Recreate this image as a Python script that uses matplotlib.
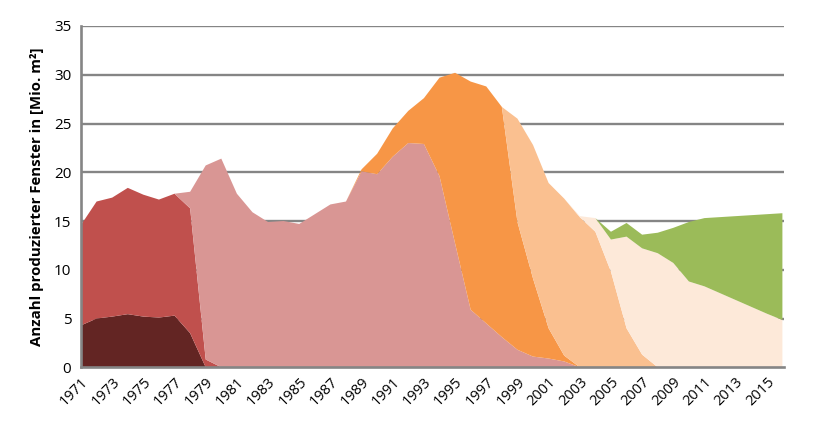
import matplotlib
matplotlib.use("Agg")
import matplotlib.pyplot as plt

plt.rcParams['font.family'] = ['Open Sans', 'DejaVu Sans']

years = list(range(1971, 2017))

# stacked series (Mio. m²), bottom to top
s1_darkred = [4.3, 5.0, 5.2, 5.45, 5.2, 5.1, 5.3, 3.5, 0.0] + [0.0] * 37
s2_red = [10.3, 12.0, 12.2, 12.95, 12.5, 12.1, 12.5, 12.8, 0.8] + [0.0] * 37
s3_pink = [0.0] * 7 + [1.7, 19.9, 21.4, 17.8, 15.9, 14.9, 15.0, 14.7, 15.7, 16.7,
                       17.0, 20.1, 19.8, 21.6, 23.0, 22.9, 19.6, 12.7, 5.9, 4.5,
                       3.1, 1.8, 1.1, 0.9, 0.6] + [0.0] * 14
s4_orange = [0.0] * 18 + [0.2, 2.1, 2.9, 3.3, 4.7, 10.1, 17.5, 23.4, 24.3, 23.6,
                          13.1, 8.0, 3.1, 0.6] + [0.0] * 14
s5_lightorange = [0.0] * 27 + [0.0, 10.6, 13.7, 14.9, 16.1, 15.4, 13.9, 9.8, 4.0,
                               1.3] + [0.0] * 9
s6_peach = [0.0] * 32 + [0.1, 1.4, 3.3, 9.4, 10.9, 11.7, 10.7, 8.8, 8.3, 7.6, 6.9,
                         6.2, 5.5, 4.85]
s7_green = [0.0] * 33 + [0.0, 0.8, 1.4, 1.4, 2.1, 3.6, 6.1, 7.0, 7.8, 8.6, 9.4,
                         10.2, 10.95]

colors = ['#632523', '#c0504d', '#d99694', '#f79646', '#fac090', '#fde9d9', '#9bbb59']

xtick_labels = [str(y) for y in range(1971, 2016, 2)]
yticks = [0, 5, 10, 15, 20, 25, 30, 35]

fig = plt.figure(figsize=(8.31, 4.26), dpi=100)
ax = fig.add_axes([0.0975, 0.1378, 0.8459, 0.8012])

grid_color = '#858585'
for yv in yticks[1:]:
    ax.axhline(yv, color=grid_color, lw=1.7, zorder=0)

ax.stackplot(years, s1_darkred, s2_red, s3_pink, s4_orange, s5_lightorange,
             s6_peach, s7_green, colors=colors, linewidth=0, zorder=2)

ax.set_xlim(1971, 2016.1)
ax.set_ylim(0, 35)
ax.set_yticks(yticks)
ax.set_yticklabels([str(v) for v in yticks], fontsize=11)
ax.set_xticks(list(range(1971, 2016, 2)))
ax.set_xticklabels(xtick_labels, rotation=45, ha='right', rotation_mode='anchor',
                   fontsize=10.5)
ax.tick_params(axis='both', length=0, pad=5)
ax.tick_params(axis='y', pad=7)

for side in ['top', 'right']:
    ax.spines[side].set_visible(False)
for side in ['left', 'bottom']:
    ax.spines[side].set_color(grid_color)
    ax.spines[side].set_linewidth(1.9)
    ax.spines[side].set_zorder(3)

ax.set_ylabel('Anzahl produzierter Fenster in [Mio. m²]', fontsize=10.8,
              fontweight='bold', labelpad=7)

fig.savefig('out.png', dpi=100)
